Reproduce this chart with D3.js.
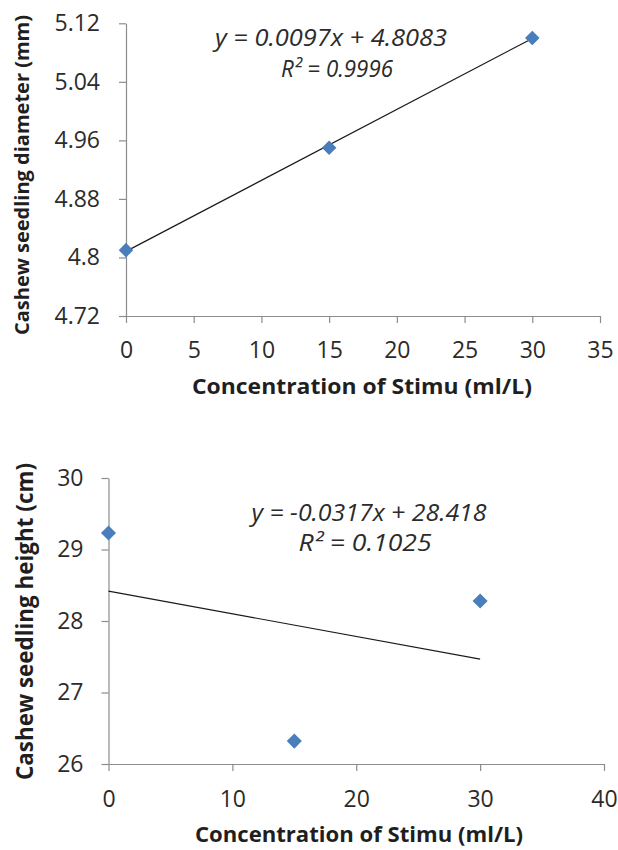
<!DOCTYPE html>
<html>
<head>
<meta charset="utf-8">
<script src="https://cdn.jsdelivr.net/npm/d3@7"></script>
<style>
  html, body { margin: 0; padding: 0; background: #fff; }
  svg { display: block; }
  text { font-family: "Open Sans", "DejaVu Sans", sans-serif; }
</style>
</head>
<body>
<svg id="chart" width="618" height="850"></svg>
<script>
// ---- data ----
const concentration = [0, 15, 30];
const diameterValues = [4.81, 4.95, 5.10];
const heightValues = [29.23, 26.32, 28.28];

const diameterYTicks = [4.72, 4.8, 4.88, 4.96, 5.04, 5.12];
const diameterXTicks = [0, 5, 10, 15, 20, 25, 30, 35];
const heightYTicks = [26, 27, 28, 29, 30];
const heightXTicks = [0, 10, 20, 30, 40];

const diameterTrend = [0.0097, 4.8083];   // slope, intercept
const heightTrend = [-0.0317, 28.418];
const diameterEqText = ["y = 0.0097x + 4.8083", "R² = 0.9996"];
const heightEqText = ["y = -0.0317x + 28.418", "R² = 0.1025"];

const xTitle = "Concentration of Stimu (ml/L)";
const diameterYTitle = "Cashew seedling diameter (mm)";
const heightYTitle = "Cashew seedling height (cm)";

// ---- drawing ----
const svg = d3.select("#chart");
const AXIS = "#8c8c8c", TEXT = "#2b2b2b", MARK = "#4a7ebb";

function panel(cfg) {
  const g = svg.append("g");
  const x = d3.scaleLinear().domain(cfg.xDomain).range(cfg.xRange);
  const y = d3.scaleLinear().domain(cfg.yDomain).range(cfg.yRange);

  const xAxis = g.append("g")
    .attr("transform", `translate(0,${cfg.yRange[0]})`)
    .call(d3.axisBottom(x).tickValues(cfg.xTicks).tickSize(7).tickSizeOuter(0)
      .tickPadding(cfg.xPad).tickFormat(d => String(d)));
  const yAxis = g.append("g")
    .attr("transform", `translate(${cfg.xRange[0]},0)`)
    .call(d3.axisLeft(y).tickValues(cfg.yTicks).tickSize(7).tickSizeOuter(0)
      .tickPadding(cfg.yPad).tickFormat(d => String(d)));
  [xAxis, yAxis].forEach(a => {
    a.select(".domain").attr("stroke", AXIS).attr("stroke-width", 1.2);
    a.selectAll(".tick line").attr("stroke", AXIS).attr("stroke-width", 1.2);
    a.selectAll(".tick text").attr("fill", TEXT).style("font-size", "23px")
      .style("font-family", '"Open Sans", sans-serif');
  });

  // trendline
  const x0 = d3.min(concentration), x1 = d3.max(concentration);
  const [m, b] = cfg.trend;
  g.append("line")
    .attr("x1", x(x0)).attr("y1", y(m * x0 + b))
    .attr("x2", x(x1)).attr("y2", y(m * x1 + b))
    .attr("stroke", "#1a1a1a").attr("stroke-width", 1.2);

  // markers
  const diamond = d3.symbol().type(d3.symbolDiamond2).size(cfg.markSize);
  g.selectAll("path.pt").data(cfg.values).enter().append("path")
    .attr("class", "pt")
    .attr("d", diamond)
    .attr("transform", (d, i) => `translate(${x(concentration[i])},${y(d)})`)
    .attr("fill", MARK);

  // equation text
  cfg.eq.forEach((t, i) => {
    g.append("text")
      .attr("x", cfg.eqPos[i][0]).attr("y", cfg.eqPos[i][1])
      .attr("text-anchor", "middle")
      .attr("textLength", cfg.eqLen[i]).attr("lengthAdjust", "spacingAndGlyphs")
      .style("font-style", "italic").style("font-size", "23px")
      .attr("fill", TEXT).text(t);
  });

  // x title
  g.append("text")
    .attr("x", cfg.xTitlePos[0]).attr("y", cfg.xTitlePos[1])
    .attr("text-anchor", "middle")
    .attr("textLength", cfg.xTitleLen).attr("lengthAdjust", "spacingAndGlyphs")
    .style("font-weight", "bold").style("font-size", "22px")
    .attr("fill", "#1f1f1f").text(xTitle);

  // y title
  g.append("text")
    .attr("transform", `translate(${cfg.yTitlePos[0]},${cfg.yTitlePos[1]}) rotate(-90)`)
    .attr("text-anchor", "middle")
    .attr("textLength", cfg.yTitleLen).attr("lengthAdjust", "spacingAndGlyphs")
    .style("font-weight", "bold").style("font-size", cfg.yTitleSize + "px")
    .attr("fill", "#1f1f1f").text(cfg.yTitle);
}

panel({
  xDomain: [0, 35], xRange: [126, 600],
  yDomain: [4.72, 5.12], yRange: [316, 23.3],
  xTicks: diameterXTicks, yTicks: diameterYTicks,
  xPad: 19, yPad: 19,
  trend: diameterTrend, values: diameterValues, markSize: 135,
  eq: diameterEqText, eqPos: [[331, 46], [337, 77]], eqLen: [232, 112],
  xTitlePos: [362, 394], xTitleLen: 340,
  yTitle: diameterYTitle, yTitlePos: [28.5, 175], yTitleLen: 320, yTitleSize: 20
});

panel({
  xDomain: [0, 40], xRange: [108.5, 604],
  yDomain: [26, 30], yRange: [764, 478],
  xTicks: heightXTicks, yTicks: heightYTicks,
  xPad: 20, yPad: 18,
  trend: heightTrend, values: heightValues, markSize: 145,
  eq: heightEqText, eqPos: [[369, 521], [365, 551]], eqLen: [235, 133],
  xTitlePos: [359, 842], xTitleLen: 328,
  yTitle: heightYTitle, yTitlePos: [33, 621.5], yTitleLen: 317, yTitleSize: 23
});
</script>
</body>
</html>
